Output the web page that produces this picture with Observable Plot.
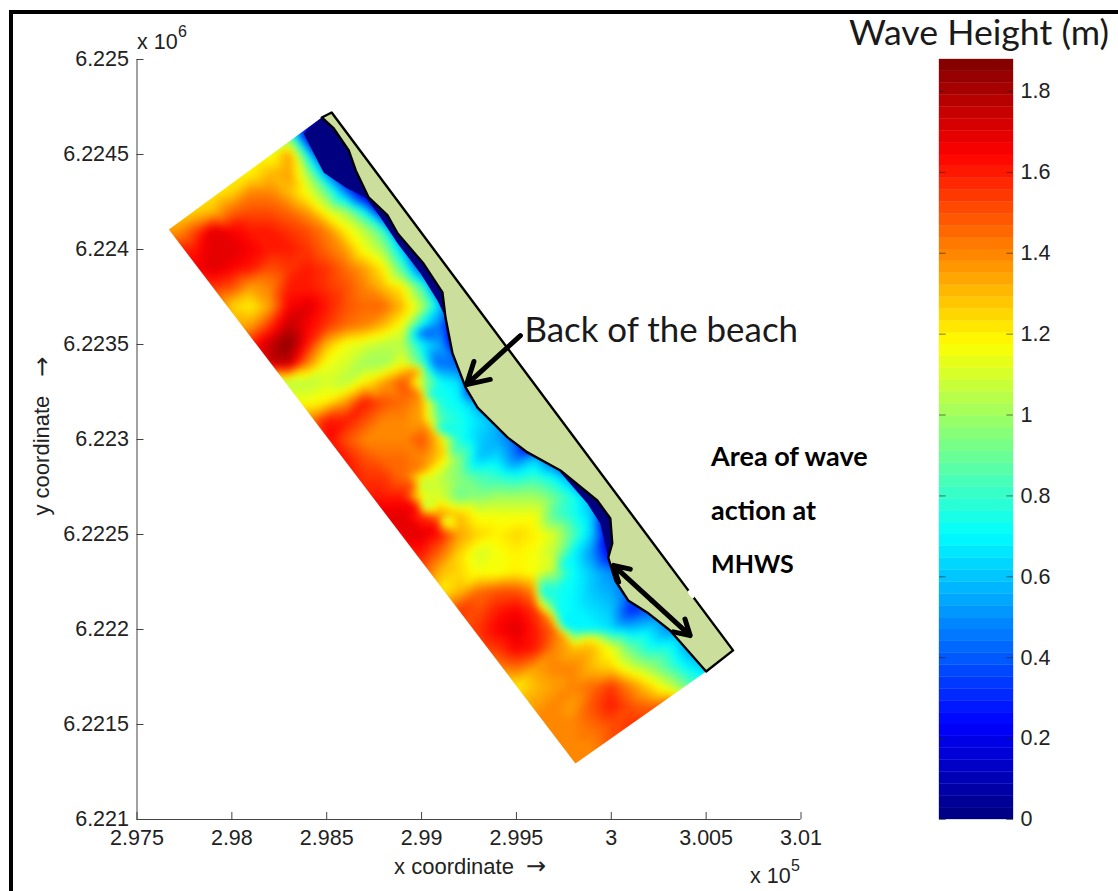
<!DOCTYPE html>
<html>
<head>
<meta charset="utf-8">
<script src="https://cdn.jsdelivr.net/npm/d3@7"></script>
<script src="https://cdn.jsdelivr.net/npm/@observablehq/plot@0.6"></script>
<style>
html,body{margin:0;padding:0;background:#fff}
#page{position:relative;width:1118px;height:891px;overflow:hidden;background:#fff}
#page svg{position:absolute;left:0;top:0;background:transparent}
#frame{position:absolute;left:9px;top:10px;right:-10px;bottom:-10px;border-left:4px solid #000;border-top:4px solid #000}
#cbtitle{position:absolute;left:849px;top:10px;font:35.7px Lato,sans-serif;color:#1a1a1a;white-space:nowrap}
</style>
</head>
<body>
<div id="page"><div id="frame"></div><div id="cbtitle">Wave Height (m)</div></div>
<script>
// Axis ticks
const xTicks = [297500,298000,298500,299000,299500,300000,300500,301000];
const xTickLabels = ["2.975","2.98","2.985","2.99","2.995","3","3.005","3.01"];
const yTicks = [6221000,6221500,6222000,6222500,6223000,6223500,6224000,6224500,6225000];
const yTickLabels = ["6.221","6.2215","6.222","6.2225","6.223","6.2235","6.224","6.2245","6.225"];
const barTicks = [0,0.2,0.4,0.6,0.8,1,1.2,1.4,1.6,1.8];
const barMax = 1.879;

// Wave height samples: one row per northing, columns every 100 m from rowStartX
const rowY = [6224700,6224600,6224500,6224400,6224300,6224200,6224100,6224000,6223900,6223800,6223700,6223600,6223500,6223400,6223300,6223200,6223100,6223000,6222900,6222800,6222700,6222600,6222500,6222400,6222300,6222200,6222100,6222000,6221900,6221800,6221700,6221600,6221500,6221400,6221300];
const rowStartX = [298300,298300,298100,298000,297900,297800,297700,297700,297800,297900,298000,298000,298100,298200,298200,298300,298400,298500,298600,298700,298700,298800,298900,299000,299000,299100,299200,299200,299300,299400,299500,299500,299600,299700,299800];
const waveHeight = [
 [.8,.1,0,0],
 [.9,.15,0,0],
 [1.15,1.15,1.35,.7,0,0,0],
 [1.2,1.2,1.3,1.35,1.0,.5,0,0],
 [1.2,1.25,1.4,1.4,1.3,1.15,.9,.5,.05,0],
 [1.25,1.3,1.45,1.5,1.5,1.45,1.35,1.15,1.0,.7,.15,0],
 [1.35,1.5,1.7,1.65,1.6,1.6,1.55,1.5,1.4,1.2,1.05,.8,.15,0],
 [1.6,1.6,1.7,1.7,1.65,1.6,1.6,1.55,1.45,1.35,1.15,1.0,.6,.05,0],
 [1.65,1.7,1.65,1.6,1.5,1.55,1.6,1.55,1.45,1.35,1.2,.85,.35,0,0],
 [1.55,1.5,1.35,1.4,1.6,1.6,1.55,1.5,1.4,1.3,1.2,.85,.2,0],
 [1.25,1.2,1.35,1.65,1.7,1.6,1.5,1.45,1.45,1.3,1.05,.6,0],
 [1.3,1.35,1.55,1.75,1.65,1.55,1.45,1.4,1.3,1.15,.7,.45,0],
 [1.6,1.75,1.85,1.6,1.3,1.15,1.1,1.05,1.05,.7,.55,0],
 [1.75,1.75,1.4,1.15,1.1,1.0,1.0,1.15,.85,.45,.4,0],
 [1.05,1.05,1.05,1.1,1.05,1.2,1.35,1.5,1.05,.72,.65,0],
 [1.15,1.15,1.2,1.35,1.6,1.5,1.45,1.35,.75,.7,.5,0],
 [1.4,1.6,1.6,1.5,1.4,1.4,1.35,.85,.75,.65,.55,0],
 [1.65,1.5,1.4,1.4,1.4,1.5,1.25,.75,.62,.55,.4,0],
 [1.6,1.5,1.45,1.45,1.4,1.25,.95,.6,.65,.45,.6,.35,0],
 [1.55,1.55,1.45,1.15,1.05,.95,.85,.8,.75,.8,.7,.5,0],
 [1.6,1.6,1.6,1.15,1.1,.9,.95,1.0,1.0,1.0,.9,.75,.55,0],
 [1.7,1.7,1.55,1.4,1.3,1.15,1.15,1.15,1.15,.85,.75,.6,0],
 [1.7,1.7,1.6,1.35,1.25,1.2,1.25,1.2,1.1,.85,.6,.1,0],
 [1.6,1.45,1.25,1.1,1.15,1.2,1.15,1.05,.7,.5,.2,0],
 [1.5,1.3,1.25,1.15,1.15,1.2,1.15,1.0,.72,.6,.5,.4],
 [1.2,1.3,1.45,1.5,1.5,1.25,.75,.7,.6,.55,.4,.3],
 [1.55,1.5,1.6,1.65,1.55,.9,.7,.65,.6,.3,.4,.4],
 [1.5,1.55,1.65,1.7,1.6,1.45,.7,.7,.65,.6,.65,.5,.5],
 [1.5,1.55,1.65,1.6,1.4,1.3,1.3,1.15,.9,.75,.75,.55],
 [1.4,1.45,1.35,1.4,1.4,1.3,1.25,1.1,1.0,.85,.7,.6],
 [1.2,1.3,1.35,1.4,1.45,1.55,1.4,1.25,1.1,.9,.8],
 [1.3,1.35,1.4,1.35,1.5,1.6,1.5,1.45,1.5],
 [1.4,1.4,1.4,1.45,1.5,1.55,1.6],
 [1.4,1.4,1.4,1.5,1.5],
 [1.4,1.4,1.4]
];
// Extra readings on both sides of the sharp edges in the field
const edgeX = [298980,299030,298996,299046,299038,299088,299117,299167,299000,299050,298950,299000,298970,299020,299080,299120,299585,299635,299675,299715,299745,299750,299889,299889,299696,299746,299010,299084];
const edgeY = [6223363,6223363,6223221,6223221,6223063,6223063,6222926,6222926,6222850,6222800,6222768,6222768,6222642,6222642,6222530,6222585,6222205,6222205,6222060,6222110,6221970,6222020,6221950,6222000,6222337,6222337,6223563,6223400];
const edgeH = [1.35,.8,1.4,.75,1.35,.75,1.3,.85,1.4,1.1,1.5,1.05,1.65,1.05,1.65,1.05,1.4,.72,1.4,.72,1.35,.7,1.2,.7,1.1,.72,.4,.4];

// Model domain outline (easting, northing)
const domainX = [297668,298474,300500,299811];
const domainY = [6224105,6224695,6221779,6221295];

// Coast, north to south
const coastX = [298474,298537,298616,298653,298721,298821,298874,299010,299110,299126,299163,299232,299295,299453,299558,299732,299926,299995,300005,299984,300021,300089,300189,300310,300500];
const coastY = [6224695,6224637,6224521,6224416,6224274,6224179,6224084,6223926,6223774,6223642,6223453,6223274,6223168,6223011,6222932,6222837,6222679,6222584,6222453,6222379,6222258,6222153,6222090,6221995,6221779];
// Landward outline
const backX = [300642,298526];
const backY = [6221890,6224721];
// Small gap in the landward outline
const gapX = [300413,300429];
const gapY = [6222197,6222176];

// Zero-height strips along the coast: seaward edge
const dry1X = [298379,298416,298484,298600,298705,298784,298874,298995,299084,299126];
const dry1Y = [6224611,6224537,6224405,6224326,6224274,6224168,6224032,6223874,6223732,6223642];
const dry2X = [299732,299874,299942,299979];
const dry2Y = [6222826,6222663,6222558,6222400];

// Annotation arrows
const arrowBeach = {x1:299521,y1:6223547,x2:299237,y2:6223289};
const arrowMhws = {x1:300213,y1:6222153,x2s:[300011,300416],y2s:[6222337,6221968]};

const annotationLines = ["Area of wave","action at","MHWS"];
const annotationY = [6222905,6222621,6222337];
const annotationSize = [27,27,25];

function jet(t){
  const c = v => Math.round(255*Math.max(0,Math.min(1,v)));
  return `rgb(${c(1.5-Math.abs(4*t-3))},${c(1.5-Math.abs(4*t-2))},${c(1.5-Math.abs(4*t-1))})`;
}
const nColors = 64;
const colors = d3.range(nColors).map(i => jet((i+.5)/nColors));
const thresholds = d3.range(1,nColors).map(i => i/nColors*barMax);
const bands = d3.range(nColors).map(i => ({y1:i/nColors*barMax,y2:(i+1)/nColors*barMax,c:colors[i]}));

const samples = [
  ...rowY.flatMap((y,r) => waveHeight[r].map((h,i) => ({x:rowStartX[r]+100*i,y,h}))),
  ...edgeX.map((x,i) => ({x,y:edgeY[i],h:edgeH[i]}))
];
const pts = (xs,ys) => xs.map((x,i) => ({x,y:ys[i]}));
const coast = pts(coastX,coastY);
const land = [...coast, ...pts(backX,backY), coast[0]];
const dry1 = [...pts(dry1X,dry1Y), ...coast.slice(0,10).reverse()];
const dry2 = [...pts(dry2X,dry2Y), ...coast.slice(15,20).reverse()];
const domain = pts(domainX,domainY);
const ink = "#222";
const font = "'Liberation Sans',Arial,sans-serif";
const lato = "Lato,sans-serif";

const main = Plot.plot({
  width:1118,height:891,marginLeft:136.5,marginRight:317.5,marginTop:59,marginBottom:72,
  style:{background:"transparent",fontFamily:font,fontSize:"21.5px",color:ink},
  x:{domain:[297500,301000],axis:null},
  y:{domain:[6221000,6225000],axis:null},
  color:{type:"threshold",domain:thresholds,range:colors},
  marks:[
    Plot.raster(samples,{x:"x",y:"y",fill:"h",interpolate:"barycentric",pixelSize:1,blur:3,imageRendering:"auto",
      render(index,scales,values,dimensions,context,next){
        const g = next(index,scales,values,dimensions,context);
        const id = "domain-clip";
        const clip = document.createElementNS("http://www.w3.org/2000/svg","clipPath");
        clip.setAttribute("id",id);
        const poly = document.createElementNS("http://www.w3.org/2000/svg","polygon");
        poly.setAttribute("points",domain.map(d => `${scales.x(d.x)},${scales.y(d.y)}`).join(" "));
        clip.appendChild(poly);
        g.insertBefore(clip,g.firstChild);
        g.setAttribute("clip-path",`url(#${id})`);
        return g;
      }}),
    Plot.line(dry1,{x:"x",y:"y",fill:jet(0),stroke:"none",curve:"linear-closed"}),
    Plot.line(dry2,{x:"x",y:"y",fill:jet(0),stroke:"none",curve:"linear-closed"}),
    Plot.line(land,{x:"x",y:"y",fill:"#cbde9b",stroke:"#000",strokeWidth:2.4,curve:"linear-closed",strokeLinejoin:"round"}),
    Plot.line(pts(gapX,gapY),{x:"x",y:"y",stroke:"#fff",strokeWidth:4}),
    // axes
    Plot.ruleX(xTicks,{y1:6221000,y2:6221037,stroke:"#444",strokeWidth:1}),
    Plot.ruleY(yTicks,{x1:297500,x2:297537,stroke:"#444",strokeWidth:1}),
    Plot.ruleY([6221000],{stroke:"#444",strokeWidth:1}),
    Plot.ruleX([297500],{stroke:"#444",strokeWidth:1}),
    Plot.text(xTicks,{x:d=>d,y:6221000,text:(d,i)=>xTickLabels[i],dy:19,fill:ink}),
    Plot.text(yTicks,{x:297500,y:d=>d,text:(d,i)=>yTickLabels[i],dx:-8,textAnchor:"end",fill:ink}),
    Plot.text(["x coordinate"],{x:298855,y:6221000,dy:47,textAnchor:"start",fill:ink,fontSize:22}),
    Plot.text(["→"],{x:299550,y:6221000,dy:47,textAnchor:"start",fill:ink,fontSize:24,fontFamily:"'DejaVu Sans'"}),
    Plot.text(["y coordinate"],{x:297500,y:6222600,dx:-95,rotate:-90,textAnchor:"start",fill:ink,fontSize:22}),
    Plot.text(["→"],{x:297500,y:6223330,dx:-95,rotate:-90,textAnchor:"start",fill:ink,fontSize:24,fontFamily:"'DejaVu Sans'"}),
    Plot.text(["x 10"],{x:297500,y:6225000,dx:0,dy:-17,textAnchor:"start",fill:ink,fontSize:21.5}),
    Plot.text(["6"],{x:297500,y:6225000,dx:41,dy:-28,textAnchor:"start",fill:ink,fontSize:16}),
    Plot.text(["x 10"],{x:301000,y:6221000,dx:-51,dy:57,textAnchor:"start",fill:ink,fontSize:21.5}),
    Plot.text(["5"],{x:301000,y:6221000,dx:-10,dy:46,textAnchor:"start",fill:ink,fontSize:16}),
    // annotations
    Plot.arrow([arrowBeach],{x1:"x1",y1:"y1",x2:"x2",y2:"y2",stroke:"#000",strokeWidth:5,headLength:11,bend:0}),
    ...arrowMhws.x2s.map((x2,i) => Plot.arrow([{}],{x1:arrowMhws.x1,y1:arrowMhws.y1,x2,y2:arrowMhws.y2s[i],stroke:"#000",strokeWidth:5,headLength:11,bend:0})),
    Plot.text(["Back of the beach"],{x:299542,y:6223574,textAnchor:"start",fontFamily:lato,fontSize:34.9,fill:"#1a1a1a"}),
    Plot.text(annotationLines,{x:300526,y:(d,i)=>annotationY[i],textAnchor:"start",fontFamily:lato,fontWeight:"bold",fontSize:(d,i)=>annotationSize[i],fill:"#000"})
  ]
});

const bar = Plot.plot({
  width:1118,height:891,marginLeft:939,marginRight:105,marginTop:59,marginBottom:72,
  style:{background:"transparent",fontFamily:font,fontSize:"21.5px",color:ink},
  x:{domain:[0,1],axis:null},
  y:{domain:[0,barMax],axis:null},
  marks:[
    Plot.rect(bands,{x1:0,x2:1,y1:"y1",y2:"y2",fill:"c",stroke:"c",strokeWidth:.3}),
    Plot.ruleY(barTicks,{x1:0,x2:.09,stroke:"#222",strokeOpacity:.6}),
    Plot.ruleY(barTicks,{x1:.91,x2:1,stroke:"#222",strokeOpacity:.6}),
    Plot.text(barTicks,{x:1,y:d=>d,text:d=>String(d),dx:7,textAnchor:"start",fill:ink})
  ]
});

const page = document.getElementById("page");
page.appendChild(main);
page.appendChild(bar);
</script>
</body>
</html>
